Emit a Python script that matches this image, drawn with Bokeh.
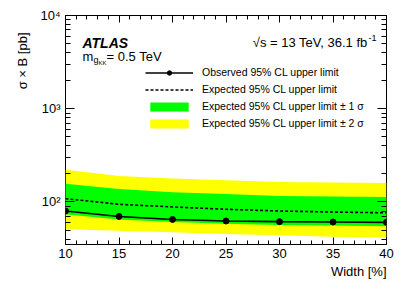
import math
from bokeh.plotting import figure
from bokeh.models import (Range1d, FixedTicker, LinearAxis, LogAxis, Label,
                          Legend, LegendItem, Title)
from bokeh.embed import file_html
from bokeh.resources import INLINE

# ---- data ----
width_pct = [10, 15, 20, 25, 30, 35, 40]
observed = [80.0, 70.0, 65.0, 62.5, 61.5, 61.0, 60.5]
expected = [108.5, 94.5, 88.5, 83.5, 80.0, 78.0, 76.5]
exp_plus1 = [157, 138, 127, 122, 116, 114.5, 113]
exp_minus1 = [74, 65, 61, 58.5, 56.5, 56, 55]
exp_plus2 = [221, 190, 179, 171, 164, 162, 160]
exp_minus2 = [51, 49, 47.5, 45.5, 44, 42.5, 41.5]

x_ticks = [10, 15, 20, 25, 30, 35, 40]
x_minor = list(range(10, 41))
y_ticks = [100, 1000, 10000]
y_minor = [m * 10 ** k for k in (1, 2, 3) for m in range(2, 10) if m * 10 ** k >= 35]
y_tick_labels = ["10\u00b2", "10\u00b3", "10\u2074"]

FONT = "Liberation Sans"

p = figure(width=407, height=292, y_axis_type="log",
           x_range=Range1d(10, 40), y_range=Range1d(35, 10000),
           output_backend="svg", toolbar_location=None,
           min_border_left=65, min_border_right=21,
           min_border_top=15, min_border_bottom=48)
p.grid.visible = False
p.outline_line_color = "black"
p.outline_line_width = 1
p.outline_line_alpha = 1
p.background_fill_color = "white"
p.border_fill_color = "white"

xt = FixedTicker(ticks=x_ticks, minor_ticks=x_minor)
yt = FixedTicker(ticks=y_ticks, minor_ticks=y_minor)


def style(ax, major_in, minor_in, labels):
    ax.axis_line_color = None
    ax.major_tick_in = major_in
    ax.major_tick_out = 0
    ax.minor_tick_in = minor_in
    ax.minor_tick_out = 0
    ax.major_tick_line_color = "black"
    ax.minor_tick_line_color = "black"
    ax.major_label_text_font = FONT
    ax.major_label_text_color = "black"
    if labels:
        ax.major_label_text_font_size = "13px"
    else:
        ax.major_label_text_font_size = "0px"
        ax.major_label_standoff = 0
        ax.major_label_text_alpha = 0


bx = p.xaxis[0]
bx.ticker = xt
style(bx, 7, 4, True)
bx.major_label_standoff = 4

ly = p.yaxis[0]
ly.ticker = yt
style(ly, 9, 5, True)
ly.major_label_standoff = 5
ly.major_label_overrides = dict(zip(y_ticks, y_tick_labels))

tx = LinearAxis(ticker=xt)
style(tx, 7, 4, False)
p.add_layout(tx, "above")
ry = LogAxis(ticker=yt)
style(ry, 9, 5, False)
p.add_layout(ry, "right")

# axis titles
p.add_layout(Title(text="Width [%]", align="right", text_font=FONT,
                   text_font_size="13px", text_font_style="normal",
                   text_color="black", standoff=2), "below")
p.add_layout(Title(text="\u03c3 \u00d7 B [pb]", align="right", text_font=FONT,
                   text_font_size="13px", text_font_style="normal",
                   text_color="black", standoff=16, offset=17), "left")

# ---- bands and lines ----
r2 = p.varea(x=width_pct, y1=exp_minus2, y2=exp_plus2, fill_color="#ffff00")
r1 = p.varea(x=width_pct, y1=exp_minus1, y2=exp_plus1, fill_color="#00ff00")
re = p.line(width_pct, expected, line_color="black", line_width=1.6, line_dash="3 2")
ro = p.line(width_pct, observed, line_color="black", line_width=1.6)
rp = p.scatter(width_pct, observed, size=6, fill_color="black", line_color="black")

legend = Legend(items=[
    LegendItem(label="Observed 95% CL upper limit", renderers=[ro, rp]),
    LegendItem(label="Expected 95% CL upper limit", renderers=[re]),
    LegendItem(label="Expected 95% CL upper limit \u00b1 1 \u03c3", renderers=[r1]),
    LegendItem(label="Expected 95% CL upper limit \u00b1 2 \u03c3", renderers=[r2]),
], location=(80, 115))
legend.glyph_width = 48
legend.glyph_height = 11
legend.label_height = 12
legend.label_standoff = 9
legend.spacing = 5
legend.padding = 0
legend.margin = 0
legend.border_line_alpha = 0
legend.background_fill_alpha = 0
legend.label_text_font = FONT
legend.label_text_font_size = "10.5px"
legend.label_text_color = "black"
p.add_layout(legend, "center")


def lab(text, x, y, size, style="normal", align="left", baseline="alphabetic"):
    p.add_layout(Label(text=text, x=x, y=y, x_units="screen", y_units="screen",
                       text_font=FONT, text_font_size=size, text_font_style=style,
                       text_align=align, text_baseline=baseline,
                       text_color="black"))


lab("ATLAS", 17, 202, "14px", style="bold italic")
lab("m", 17, 188, "13px")
lab("g", 28, 185, "9px")
lab("KK", 33, 182, "6px")
lab("= 0.5 TeV", 41, 188, "13px")
lab("\u221as = 13 TeV, 36.1 fb", 302, 202, "13px", align="right")
lab("-1", 303, 207, "9px")

open("out.html", "w").write(file_html(p, INLINE))
